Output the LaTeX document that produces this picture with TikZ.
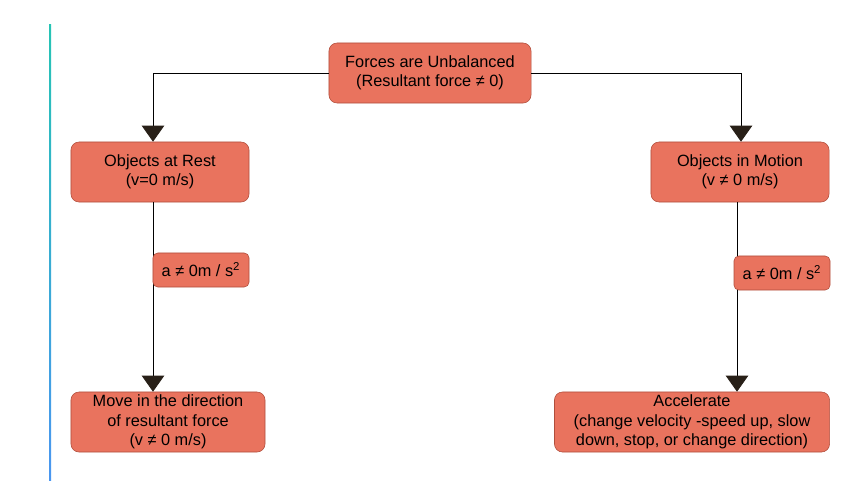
\documentclass[tikz,border=0pt]{standalone}
\usepackage{fontspec}
\setmainfont{Liberation Sans}
\usepackage{xcolor}
\usetikzlibrary{arrows.meta,positioning}
\definecolor{boxfill}{RGB}{233,115,94}
\definecolor{boxdraw}{RGB}{176,78,60}
\definecolor{tipcol}{RGB}{40,32,24}
\definecolor{barTop}{RGB}{38,196,180}
\definecolor{barBot}{RGB}{74,150,240}
\tikzset{%
	box/.style   = {draw=boxdraw, fill=boxfill, rectangle, rounded corners=0.2cm, align=center, minimum height=1.5cm, inner sep=2pt, font=\fontsize{11.6}{13.8}\selectfont},
	lbl/.style   = {draw=boxdraw, fill=boxfill, rectangle, rounded corners=0.12cm, minimum width=2.4cm, minimum height=0.85cm, inner sep=1pt, font=\fontsize{11.6}{13.8}\selectfont},
	arrow/.style = {line width=0.6pt, -{Triangle[width=0.56cm, length=0.4cm, fill=tipcol, color=tipcol]}},
}

\begin{document}
\begin{tikzpicture}[x=0.025cm, y=-0.025cm]
	\useasboundingbox (0,0) rectangle (853,480);
	\shade[top color=barTop, bottom color=barBot] (49,24) rectangle (51,480);
	% boxes
	\node[box, minimum width=5.05cm] (forces) at (430,73) {Forces are Unbalanced\\(Resultant force ≠ 0)};
	\node[box, minimum width=4.45cm] (rest) at (160,172) {Objects at Rest\\(v=0 m/s)};
	\node[box, minimum width=4.45cm] (motion) at (740,172) {Objects in Motion\\(v ≠ 0 m/s)};
	\node[box, minimum width=4.85cm] (move) at (168,422) {Move in the direction\\of resultant force\\(v ≠ 0 m/s)};
	\node[box, minimum width=6.875cm] (accel) at (692,422) {Accelerate\\(change velocity -speed up, slow\\down, stop, or change direction)};
	% connector columns
	\coordinate (lcol) at (153,0);
	\coordinate (rtop) at (741,0);
	\coordinate (rcol) at (737,0);
	\draw[arrow] (forces.west) -| (lcol |- rest.north);
	\draw[arrow] (forces.east) -| (rtop |- motion.north);
	\draw[arrow] (rest.south -| lcol) -- (lcol |- move.north);
	\draw[arrow] (motion.south -| rcol) -- (rcol |- accel.north);
	% labels on the lines
	\node[lbl] (aleft) at (201,270) {a ≠ 0m / s\textsuperscript{2}};
	\node[lbl] (aright) at (782,273) {a ≠ 0m / s\textsuperscript{2}};
\end{tikzpicture}
\end{document}
